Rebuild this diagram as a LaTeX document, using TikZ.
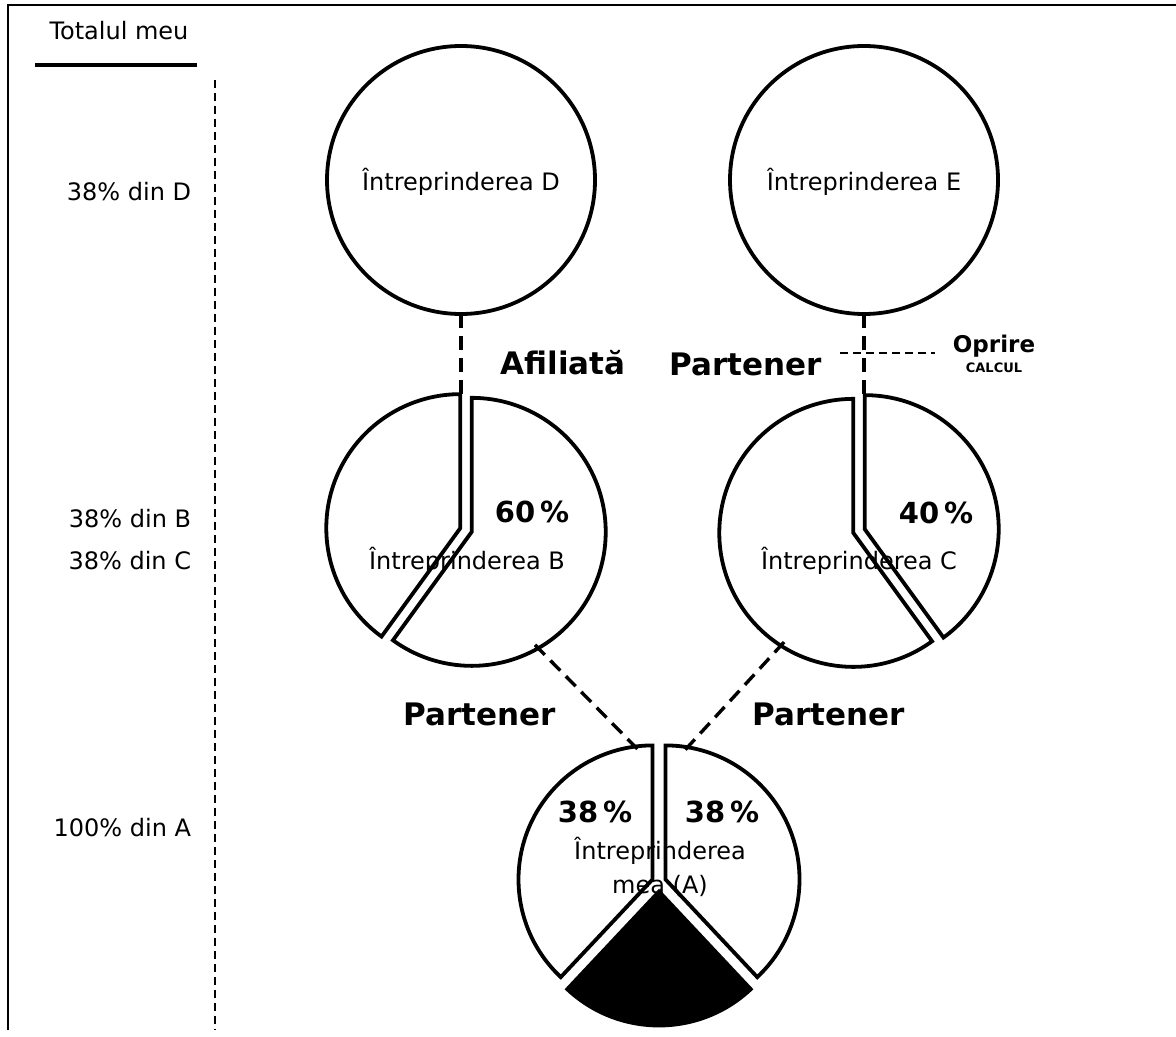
\documentclass[tikz,border=0pt]{standalone}
\usepackage{fontspec}
\setmainfont{DejaVu Sans}
\usetikzlibrary{calc}

% one exploded slice: [fill]{centre}{start}{end}{shift angle}{shift}
\newcommand{\pieslice}[6][white]{%
  \draw[slice,fill=#1] ($(#2)+(#5:#6)$) -- ++(#3:134) arc[start angle=#3, end angle=#4, radius=134] -- cycle;}

\begin{document}
\begin{tikzpicture}[x=0.5pt,y=-0.5pt,
    firm/.style={circle,draw,line width=1.9pt,minimum size=134pt,inner sep=0pt,outer sep=0pt},
    pie/.style={circle,minimum size=134pt,inner sep=0pt,outer sep=0pt},
    slice/.style={draw,line width=1.9pt,line join=miter},
    firmtxt/.style={font=\fontsize{12}{14}\selectfont,inner sep=0.75pt},
    pct/.style={font=\fontsize{14.5}{16}\selectfont\bfseries,inner sep=0.75pt},
    tag/.style={font=\fontsize{15.5}{17}\selectfont\bfseries,inner sep=0.75pt},
    total/.style={font=\fontsize{12}{14}\selectfont,inner sep=0.75pt,anchor=east},
    link/.style={line width=1.7pt,dash pattern=on 7pt off 4pt},
    guide/.style={line width=1pt,dash pattern=on 4pt off 2.5pt}]
  \useasboundingbox (0,0) rectangle (1176,1037);

  % frame and left column
  \draw[line width=1.4pt] (8,1030) -- (8,5) -- (1176,5);
  \node[firmtxt] (head) at (119,31) {Totalul meu};
  \draw[line width=1.6pt] (35,65) -- (197,65);
  \draw[guide] (215,80) -- (215,1030);
  \node[total] (totD) at (193,192) {38\% din D};
  \node[total] (totB) at (193,519) {38\% din B};
  \node[total] (totC) at (193,561) {38\% din C};
  \node[total] (totA) at (193,828) {100\% din A};

  % upper firms
  \node[firm] (D) at (461,180) {};
  \node[firmtxt] at (461,182) {Întreprinderea D};
  \node[firm] (E) at (864,180) {};
  \node[firmtxt] at (864,182) {Întreprinderea E};

  % firm B
  \node[pie] (B) at (466,530) {};
  \pieslice{B}{-90}{126}{18}{6}
  \pieslice{B}{126}{270}{198}{6}
  \node[pct] (pB) at (532,512) {60\,\%};
  \node[firmtxt] (nB) at (467,561) {Întreprinderea B};

  % firm C
  \node[pie] (C) at (859,531) {};
  \pieslice{C}{-90}{54}{-18}{6}
  \pieslice{C}{54}{270}{162}{6}
  \node[pct] (pC) at (936,513) {40\,\%};
  \node[firmtxt] (nC) at (859,561) {Întreprinderea C};

  % my firm A
  \node[pie] (A) at (659,882) {};
  \pieslice{A}{133.2}{270}{201.6}{7}
  \pieslice{A}{-90}{46.8}{-21.6}{7}
  \pieslice[black]{A}{46.8}{133.2}{90}{9.5}
  \node[pct] (pA1) at (595,812) {38\,\%};
  \node[pct] (pA2) at (722,812) {38\,\%};
  \node[firmtxt,align=center] (nA) at (660,867) {Întreprinderea\\[3pt]mea (A)};

  % links
  \draw[link] (D.south) -- (D.south |- B.north);
  \draw[link] (E.south) -- (E.south |- C.north);
  \draw[link] (B.-59) -- (A.99);
  \draw[link] (C.236) -- (A.79);

  \node[tag] (aff) at (563,363) {Afiliată};
  \node[tag] (p1) at (746,364) {Partener};
  \node[tag] (p2) at (480,714) {Partener};
  \node[tag] (p3) at (829,714) {Partener};

  % stop
  \node[font=\fontsize{11.5}{13}\selectfont\bfseries,inner sep=0.75pt] (stop) at (994,346) {Oprire};
  \node[font=\fontsize{6.5}{8}\selectfont\bfseries,inner sep=0.75pt] (calc) at (994,368) {CALCUL};
  \coordinate (stopL) at (840,353);
  \draw[guide] (stopL) -- ($(stop.west |- stopL)+(-16,0)$);
\end{tikzpicture}
\end{document}
